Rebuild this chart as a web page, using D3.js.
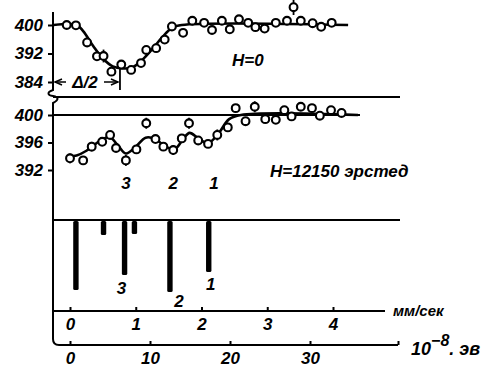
<!DOCTYPE html>
<html><head><meta charset="utf-8">
<script src="https://cdn.jsdelivr.net/npm/d3@7"></script>
<style>
body{margin:0;background:#fff;}
svg text{font-family:"Liberation Sans",Arial,sans-serif;font-style:italic;font-weight:bold;fill:#000;}
</style></head>
<body><svg id="c" width="489" height="376"></svg>
<script>
// ---- data ----
// top panel (H = 0): velocity (mm/s), counts
const topVel  = [-0.05,0.09,0.26,0.41,0.51,0.63,0.78,0.93,1.08,1.16,1.31,1.44,1.55,1.72,1.86,2.04,2.16,2.31,2.43,2.57,2.71,2.82,2.96,3.13,3.30,3.40,3.51,3.69,3.82,3.98];
const topVal  = [400,399.9,395.1,391.2,391.3,386.9,388.9,387.4,389.3,393.0,393.5,395.9,399.6,397.8,401.2,400.6,398.6,401.2,398.8,401.6,400.6,399.4,399.0,400.6,401.2,405.0,401.2,400.5,399.5,400.6];
const topErr  = [0,0,0,0,1.8,0,0,0,0,0,0,0,0,0,0,0,0,0,0,0,0,0,0,0,0,2.2,0,0,0,0];
const topFitVel = [-0.25,0.1,0.2,0.35,0.5,0.65,0.8,0.95,1.1,1.25,1.4,1.55,1.7,4.23];
const topFitVal = [400,400,398.3,394.2,390.6,388.4,387.8,388.1,390.2,393.2,396.5,399.2,400,400];

// middle panel (H = 12150 Oe)
const midVel = [0.0,0.20,0.33,0.49,0.61,0.70,0.85,1.01,1.16,1.30,1.42,1.57,1.70,1.81,1.95,2.10,2.24,2.40,2.52,2.67,2.81,2.97,3.13,3.26,3.37,3.51,3.68,3.80,3.97,4.13];
const midVal = [393.7,393.4,395.4,396.1,397.1,395.2,393.4,395.0,398.8,396.5,395.4,394.9,396.6,398.8,396.3,395.8,397.1,398.2,401.0,399.1,401.2,399.4,399.3,400.7,399.8,401.2,401.0,399.9,400.7,400.3];
const midErr = [0.7,0,0.7,0,0,0,0.8,0,0.8,0,0,0.7,0,0.8,0,0,0.8,0,0,0,0.8,0,0,0,0,0,0,0,0,0];
const midFitVel = [-0.05,0.1,0.25,0.45,0.6,0.72,0.85,1.0,1.15,1.3,1.45,1.6,1.72,1.82,1.95,2.1,2.25,2.42,2.6,4.38];
const midFitVal = [393.9,394.1,394.8,396.2,396.8,395.7,394.4,395.4,396.7,396.5,395.4,395.1,396.5,397.4,396.6,395.9,397.2,399.4,400,400];
const dipLabels = ["3","2","1"];
const dipVel = [0.85,1.57,2.19];

// line diagram (component lines)
const lineVel = [0.09,0.51,0.83,0.98,1.52,2.11];
const lineDepth = [69,14,54,13,71,51];
const lineLabels = ["","","3","","2","1"];

// axes
const topTicks = [384,392,400];
const midTicks = [392,396,400];
const velTicks = [0,1,2,3,4];
const energyTicks = [0,10,20,30];
const energyEnd = 41;

// ---- drawing ----
const svg = d3.select("#c");
const AX = 53;
const vel = d3.scaleLinear().domain([0,4]).range([70,333]);
const energy = d3.scaleLinear().domain([0,10]).range([70,150]);
const yTop = d3.scaleLinear().domain([384,400]).range([82,25]);
const yMid = d3.scaleLinear().domain([392,400]).range([170,115]);
const yBar = d3.scaleLinear().domain([0,100]).range([221,321]);

const stroke = (s,w)=>s.attr("stroke","#000").attr("stroke-width",w).attr("fill","none");

// left axis with break
svg.append("path").call(stroke,2)
  .attr("d",`M${AX},12 L${AX},90 C${AX-6},92 ${AX-6},95 ${AX},96 C${AX+6},97 ${AX+6},100 ${AX},103 L${AX},339 Q${AX},345 ${AX+6},345 L398,345`);

// horizontal guide lines
svg.append("line").call(stroke,1.8).attr("x1",AX).attr("x2",400).attr("y1",97).attr("y2",97);
svg.append("line").call(stroke,1.8).attr("x1",AX).attr("x2",360).attr("y1",yMid(400)).attr("y2",yMid(400));
svg.append("line").call(stroke,1.8).attr("x1",AX).attr("x2",400).attr("y1",220).attr("y2",220);
svg.append("line").call(stroke,1.8).attr("x1",AX).attr("x2",385).attr("y1",311).attr("y2",311);

// y axes
function yAxis(scale, ticks){
  const g = svg.append("g").attr("transform",`translate(${AX},0)`)
    .call(d3.axisLeft(scale).tickValues(ticks).tickSize(5).tickPadding(5).tickFormat(d3.format("d")));
  g.select(".domain").remove();
  g.selectAll(".tick line").attr("stroke","#000").attr("stroke-width",2);
  g.selectAll(".tick text").attr("font-size",17).attr("font-family",null).attr("fill","#000");
}
yAxis(yTop, topTicks);
yAxis(yMid, midTicks);

// velocity axis
const gv = svg.append("g").attr("transform","translate(0,311)")
  .call(d3.axisBottom(vel).tickValues(velTicks).tickSize(-4).tickPadding(7).tickFormat(d3.format("d")));
gv.select(".domain").remove();
gv.selectAll(".tick line").attr("stroke","#000").attr("stroke-width",2);
gv.selectAll(".tick text").attr("font-size",17).attr("font-family",null).attr("fill","#000");
svg.append("text").attr("x",393).attr("y",316).attr("font-size",15).text("мм/сек");

// energy axis
const ge = svg.append("g").attr("transform","translate(0,345)")
  .call(d3.axisBottom(energy).tickValues(energyTicks.concat([energyEnd])).tickSize(-4).tickPadding(7)
    .tickFormat(d=> d===energyEnd ? "" : d3.format("d")(d)));
ge.select(".domain").remove();
ge.selectAll(".tick line").attr("stroke","#000").attr("stroke-width",2);
ge.selectAll(".tick text").attr("font-size",17).attr("font-family",null).attr("fill","#000");
const eu = svg.append("text").attr("x",411).attr("y",355).attr("font-size",18);
eu.append("tspan").text("10");
eu.append("tspan").attr("dy",-9).attr("font-size",16).text("−8");
eu.append("tspan").attr("dy",9).text(". эв");

// fitted curves
const line = (xs,ys,ysc)=> d3.line().curve(d3.curveCatmullRom.alpha(0.5))
  .x((d,i)=>vel(xs[i])).y((d,i)=>ysc(ys[i]))(xs);
svg.append("path").call(stroke,2.6).attr("d",line(topFitVel,topFitVal,yTop));
svg.append("path").call(stroke,2.6).attr("d",line(midFitVel,midFitVal,yMid));

// points with error bars
function points(xs,ys,errs,ysc){
  const g = svg.append("g");
  xs.forEach((x,i)=>{
    if(errs[i]>0){
      g.append("line").call(stroke,1.8).attr("x1",vel(x)).attr("x2",vel(x))
        .attr("y1",ysc(ys[i]+errs[i])).attr("y2",ysc(ys[i]-errs[i]));
    }
  });
  g.selectAll("circle").data(xs).join("circle")
    .attr("cx",d=>vel(d)).attr("cy",(d,i)=>ysc(ys[i])).attr("r",3.9)
    .attr("fill","#fff").attr("stroke","#000").attr("stroke-width",2.1);
}
points(topVel,topVal,topErr,yTop);
points(midVel,midVal,midErr,yMid);

// Δ/2 annotation
const halfX = vel(0.76);
svg.append("line").call(stroke,1.8).attr("x1",halfX).attr("x2",halfX).attr("y1",68).attr("y2",90);
svg.append("line").call(stroke,1.5).attr("x1",AX+2).attr("x2",halfX-2).attr("y1",yTop(384)).attr("y2",yTop(384));
svg.append("path").call(stroke,1.5).attr("d",`M${AX+9},${yTop(384)-3} L${AX+2},${yTop(384)} L${AX+9},${yTop(384)+3}`);
svg.append("path").call(stroke,1.5).attr("d",`M${halfX-9},${yTop(384)-3} L${halfX-2},${yTop(384)} L${halfX-9},${yTop(384)+3}`);
svg.append("rect").attr("x",66).attr("y",72).attr("width",38).attr("height",18).attr("fill","#fff");
svg.append("text").attr("x",85).attr("y",88).attr("text-anchor","middle").attr("font-size",17).text("Δ/2");

// panel labels
svg.append("text").attr("x",232).attr("y",66).attr("font-size",17).text("H=0");
svg.append("text").attr("x",270).attr("y",177).attr("font-size",17).text("H=12150 эрстед");
svg.selectAll(".dipl").data(dipLabels).join("text").attr("class","dipl")
  .attr("x",(d,i)=>vel(dipVel[i])).attr("y",189).attr("text-anchor","middle").attr("font-size",17).text(d=>d);

// line diagram bars
svg.selectAll(".bar").data(lineVel).join("rect").attr("class","bar")
  .attr("x",d=>vel(d)-2.7).attr("width",5.4).attr("y",yBar(0)).attr("rx",1.5)
  .attr("height",(d,i)=>yBar(lineDepth[i])-yBar(0)).attr("fill","#000");
const labOff = [[0,0],[0,0],[-3,19],[0,0],[9,15],[2,18]];
svg.selectAll(".barl").data(lineVel).join("text").attr("class","barl")
  .attr("x",(d,i)=>vel(d)+labOff[i][0]).attr("y",(d,i)=>yBar(lineDepth[i])+labOff[i][1])
  .attr("text-anchor","middle").attr("font-size",17).text((d,i)=>lineLabels[i]);
</script></body></html>
